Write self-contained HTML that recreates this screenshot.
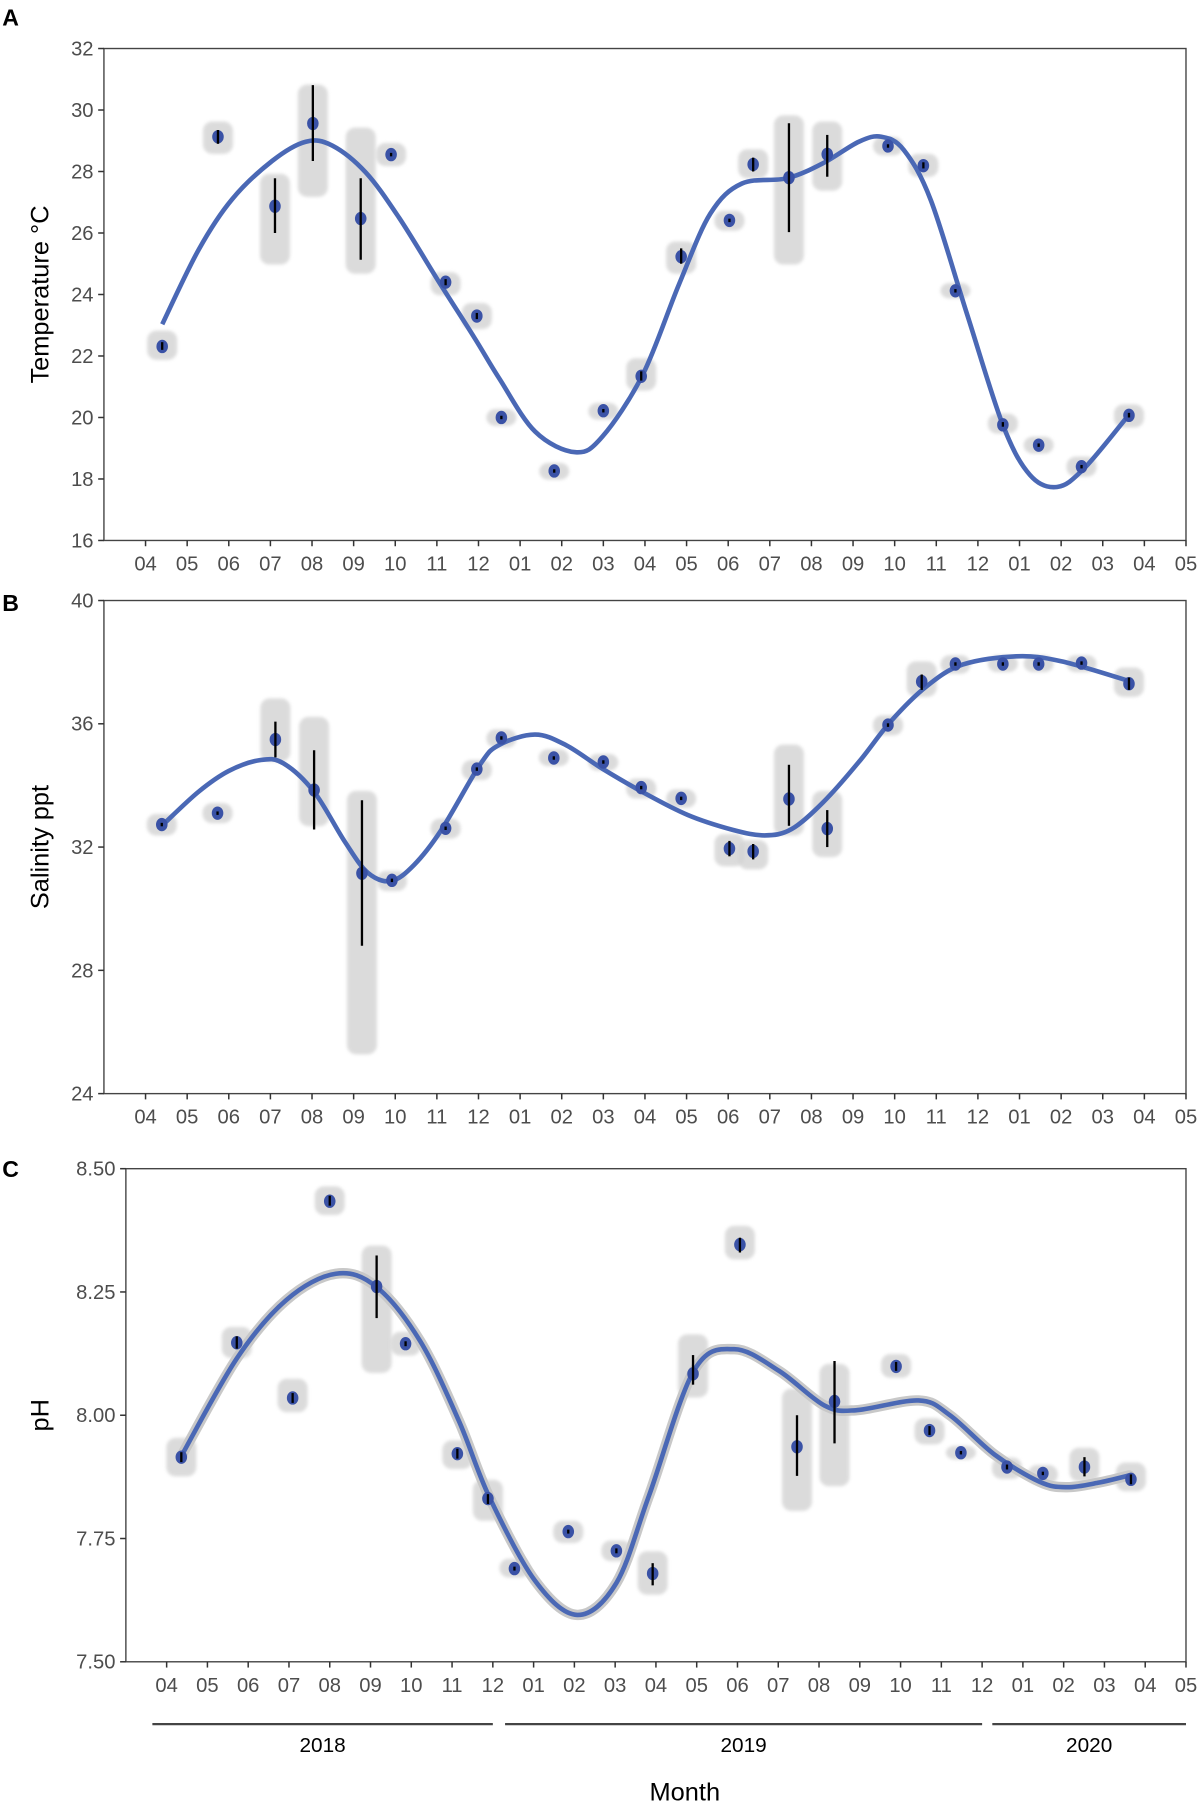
<!DOCTYPE html>
<html><head><meta charset="utf-8">
<style>
html,body{margin:0;padding:0;background:#fff;}
svg{display:block;}
text{font-family:"Liberation Sans",Arial,sans-serif;}
</style></head>
<body>
<svg id="chart" width="1201" height="1805" viewBox="0 0 1040 1563" xmlns="http://www.w3.org/2000/svg">
<defs><filter id="blur" x="-50%" y="-50%" width="200%" height="200%"><feGaussianBlur stdDeviation="1.3"/></filter></defs>
</svg>
<script>
// ---- Data (month index: 0 = 1 Mar 2018, 26 = 1 May 2020) ----
const monthTickLabels = ["04","05","06","07","08","09","10","11","12","01","02","03","04","05","06","07","08","09","10","11","12","01","02","03","04","05"];

// Temperature
const tempMonths = [1.4,2.74,4.11,5.02,6.17,6.9,8.21,8.96,9.55,10.82,12.0,12.91,13.87,15.03,15.6,16.46,17.38,18.84,19.69,20.46,21.6,22.46,23.49,24.63];
const tempMeans  = [22.31,29.13,26.87,29.56,26.47,28.55,24.4,23.3,20.0,18.26,20.22,21.34,25.23,26.41,28.23,27.8,28.56,28.83,28.19,24.12,19.76,19.1,18.4,20.07];
const tempErrLo  = [22.2,28.9,26.0,28.34,25.13,28.5,24.3,23.2,20.0,18.26,20.22,21.2,25.0,26.4,28.0,26.03,27.83,28.8,28.1,24.12,19.7,19.1,18.35,20.0];
const tempErrHi  = [22.45,29.35,27.78,30.81,27.78,28.6,24.5,23.4,20.0,18.26,20.22,21.5,25.5,26.45,28.45,29.57,29.19,28.86,28.3,24.12,19.85,19.1,18.45,20.15];
const tempCloudLo= [22.1,28.8,25.2,27.4,24.9,28.4,24.2,23.1,19.95,18.2,20.15,21.1,24.9,26.3,28.0,25.2,27.6,28.75,28.05,24.1,19.7,19.05,18.3,19.9];
const tempCloudHi= [22.6,29.4,27.7,30.6,29.2,28.7,24.5,23.5,20.05,18.3,20.25,21.7,25.5,26.5,28.5,29.6,29.4,28.9,28.35,24.15,19.9,19.15,18.5,20.2];
const tempSmoothM= [1.4,2.28,3.08,4.04,4.85,5.49,6.29,7.09,8.1,8.9,9.49,10.36,11.33,11.98,12.95,13.82,14.57,15.33,16.41,17.28,18.14,18.68,19.22,19.87,20.74,21.6,22.25,22.9,23.55,24.63];
const tempSmoothV= [23.03,25.47,27.1,28.34,28.97,28.84,27.97,26.5,24.3,22.6,21.29,19.54,18.87,19.38,21.4,24.34,26.63,27.61,27.78,28.27,28.97,29.13,28.7,27.06,23.36,19.76,18.13,17.74,18.34,20.09];
const tempTicks  = [16,18,20,22,24,26,28,30,32];

// Salinity
const salMonths = [1.39,2.73,4.12,5.05,6.2,6.92,8.21,8.96,9.55,10.81,12.0,12.91,13.87,15.03,15.6,16.46,17.38,18.84,19.65,20.46,21.6,22.46,23.49,24.63];
const salMeans  = [32.73,33.1,35.49,33.85,31.15,30.92,32.61,34.53,35.54,34.89,34.76,33.93,33.58,31.95,31.86,33.56,32.6,35.96,37.37,37.94,37.94,37.94,37.97,37.3];
const salErrLo  = [32.7,33.05,34.91,32.57,28.8,30.9,32.6,34.5,35.5,34.89,34.76,33.9,33.55,31.7,31.6,32.69,32.0,35.9,37.1,37.9,37.94,37.94,37.95,37.1];
const salErrHi  = [32.76,33.15,36.07,35.14,33.52,30.95,32.63,34.56,35.58,34.89,34.76,33.96,33.62,32.2,32.1,34.67,33.2,36.0,37.6,37.98,37.94,37.94,37.99,37.5];
const salCloudLo= [32.6,33.0,35.0,32.9,25.5,30.8,32.5,34.4,35.45,34.85,34.7,33.8,33.5,31.6,31.5,32.6,31.9,35.85,37.1,37.85,37.9,37.9,37.9,37.1];
const salCloudHi= [32.85,33.2,36.6,36.0,33.6,31.0,32.7,34.6,35.6,34.95,34.8,34.0,33.65,32.2,32.0,35.1,33.6,36.05,37.8,38.0,38.0,38.0,38.0,37.6];
const salSmoothM= [1.39,2.27,3.0,3.75,4.31,5.05,5.79,6.34,6.9,7.45,8.1,9.03,9.49,10.36,11.11,11.98,12.95,14.03,15.11,15.87,16.52,17.28,18.14,18.9,19.76,20.63,21.92,23.0,24.63];
const salSmoothV= [32.69,33.79,34.47,34.82,34.72,33.79,32.17,31.17,30.9,31.42,32.54,34.66,35.31,35.65,35.3,34.54,33.78,33.04,32.56,32.38,32.58,33.45,34.76,36.07,37.21,37.92,38.19,38.03,37.39];
const salTicks  = [24,28,32,36,40];

// pH
const phMonths = [1.36,2.72,4.09,5.0,6.15,6.86,8.13,8.88,9.53,10.85,12.03,12.92,13.91,15.06,16.46,17.38,18.89,19.71,20.48,21.61,22.49,23.51,24.65];
const phMeans  = [7.915,8.147,8.035,8.434,8.261,8.145,7.922,7.831,7.689,7.764,7.725,7.679,8.084,8.346,7.936,8.028,8.099,7.969,7.924,7.895,7.882,7.895,7.87];
const phErrLo  = [7.905,8.135,8.025,8.425,8.197,8.14,7.912,7.82,7.685,7.76,7.72,7.655,8.062,8.33,7.877,7.943,8.09,7.96,7.924,7.89,7.88,7.876,7.86];
const phErrHi  = [7.925,8.16,8.045,8.445,8.324,8.15,7.932,7.84,7.693,7.768,7.73,7.7,8.122,8.36,8.0,8.11,8.108,7.978,7.924,7.9,7.884,7.915,7.88];
const phCloudLo= [7.89,8.13,8.02,8.42,8.10,8.135,7.905,7.80,7.685,7.755,7.718,7.65,8.05,8.33,7.82,7.87,8.09,7.955,7.924,7.885,7.875,7.88,7.86];
const phCloudHi= [7.94,8.165,8.06,8.45,8.33,8.155,7.935,7.855,7.695,7.772,7.732,7.71,8.15,8.37,8.04,8.09,8.11,7.98,7.924,7.9,7.885,7.92,7.89];
const phSmoothM= [1.36,2.72,3.94,5.15,6.15,7.22,8.16,8.91,10.03,11.07,12.03,12.83,13.93,14.92,16.02,17.13,17.9,19.44,20.21,21.31,22.41,23.07,23.84,24.61];
const phSmoothV= [7.917,8.115,8.234,8.287,8.26,8.15,7.99,7.835,7.665,7.595,7.66,7.837,8.09,8.134,8.09,8.02,8.01,8.03,8.0,7.92,7.865,7.854,7.863,7.878];
const phTicks  = [7.5,7.75,8.0,8.25,8.5];
const phTickLabels = ["7.50","7.75","8.00","8.25","8.50"];

const years = ["2018","2019","2020"];
const yearStartM = [0.65,9.3,21.25];
const yearEndM = [9,21,26];

// ---- Drawing ----
const NS="http://www.w3.org/2000/svg";
const svg=document.getElementById('chart');
function mk(tag,attrs,parent){const e=document.createElementNS(NS,tag);for(const k in attrs)e.setAttribute(k,attrs[k]);(parent||svg).appendChild(e);return e;}

function smoothPath(pts){
  let d="M"+pts[0][0].toFixed(1)+","+pts[0][1].toFixed(1);
  for(let i=0;i<pts.length-1;i++){
    const p0=pts[Math.max(0,i-1)],p1=pts[i],p2=pts[i+1],p3=pts[Math.min(pts.length-1,i+2)];
    const c1=[p1[0]+(p2[0]-p0[0])/6,p1[1]+(p2[1]-p0[1])/6];
    const c2=[p2[0]-(p3[0]-p1[0])/6,p2[1]-(p3[1]-p1[1])/6];
    d+=" C"+c1[0].toFixed(1)+","+c1[1].toFixed(1)+" "+c2[0].toFixed(1)+","+c2[1].toFixed(1)+" "+p2[0].toFixed(1)+","+p2[1].toFixed(1);
  }
  return d;
}

function drawPanel(cfg){
  const g=mk('g',{});
  
  
  const xs=m=>cfg.left+(m/26)*(cfg.right-cfg.left);
  const ys=v=>cfg.bottom-(v-cfg.ymin)/(cfg.ymax-cfg.ymin)*(cfg.bottom-cfg.top);
  const fr=mk('rect',{x:cfg.left,y:cfg.top,width:cfg.right-cfg.left,height:cfg.bottom-cfg.top,fill:'none',stroke:'#444','stroke-width':1.2},g);
  
  
  cfg.ticks.forEach((t,i)=>{
    const y=ys(t);
    mk('line',{x1:cfg.left-5,x2:cfg.left,y1:y,y2:y,stroke:'#333','stroke-width':1.3},g);
    const tx=mk('text',{x:cfg.left-9,y:y+6,'text-anchor':'end','font-size':17.5,fill:'#4d4d4d'},g);
    tx.textContent=cfg.tickLabels?cfg.tickLabels[i]:String(t);
    
    
  });
  monthTickLabels.forEach((lab,i)=>{
    const x=xs(i+1);
    mk('line',{x1:x,x2:x,y1:cfg.bottom,y2:cfg.bottom+5,stroke:'#333','stroke-width':1.3},g);
    const tx=mk('text',{x:x,y:cfg.bottom+26,'text-anchor':'middle','font-size':17.5,fill:'#4d4d4d'},g);
    tx.textContent=lab;
    
    
  });
  const yt=mk('text',{x:0,y:0,'text-anchor':'middle','font-size':22,fill:'#000',transform:'translate('+cfg.titleX+','+((cfg.top+cfg.bottom)/2)+') rotate(-90)'},g);
  yt.textContent=cfg.title;
  
  
  const pl=mk('text',{x:2,y:cfg.letterY,'font-size':20,'font-weight':'bold',fill:'#000'},g);
  pl.textContent=cfg.letter;
  
  
  cfg.months.forEach((m,i)=>{
    const x=xs(m),y1=ys(cfg.cloudHi[i]),y2=ys(cfg.cloudLo[i]);
    const r=mk('rect',{x:x-13,y:y1-6,width:26,height:(y2-y1)+12,rx:8,fill:'#d3d3d3',opacity:0.8,filter:'url(#blur)'},g);
    
    
  });
  const pts=cfg.smoothM.map((m,i)=>[xs(m),ys(cfg.smoothV[i])]);
  if(cfg.ribbon){const rb=mk('path',{d:smoothPath(pts),fill:'none',stroke:'#c8c8c8','stroke-width':9,'stroke-linecap':'round'},g);
    
    }
  const ln=mk('path',{d:smoothPath(pts),fill:'none',stroke:'#4a68b5','stroke-width':4,'stroke-linecap':'butt'},g);
  
  
  cfg.months.forEach((m,i)=>{
    const x=xs(m),y=ys(cfg.means[i]);
    const c=mk('ellipse',{cx:x,cy:y,rx:5,ry:5.8,fill:'#3a52a6'},g);
    
    
    const y1=Math.min(ys(cfg.errHi[i]),y-1.5),y2=Math.max(ys(cfg.errLo[i]),y+1.5);
    const e=mk('line',{x1:x,x2:x,y1:y1,y2:y2,stroke:'#000','stroke-width':2},g);
    
    
  });
}

drawPanel({name:'temperature',letter:'A',letterY:22,left:90,right:1027,top:42,bottom:468,ymin:16,ymax:32,ticks:tempTicks,title:'Temperature °C',titleX:42,
  months:tempMonths,means:tempMeans,errLo:tempErrLo,errHi:tempErrHi,cloudLo:tempCloudLo,cloudHi:tempCloudHi,smoothM:tempSmoothM,smoothV:tempSmoothV});
drawPanel({name:'salinity',letter:'B',letterY:529,left:90,right:1027,top:520,bottom:947,ymin:24,ymax:40,ticks:salTicks,title:'Salinity ppt',titleX:42,
  months:salMonths,means:salMeans,errLo:salErrLo,errHi:salErrHi,cloudLo:salCloudLo,cloudHi:salCloudHi,smoothM:salSmoothM,smoothV:salSmoothV});
drawPanel({name:'ph',letter:'C',letterY:1019,left:109,right:1027,top:1012,bottom:1439,ymin:7.5,ymax:8.5,ticks:phTicks,tickLabels:phTickLabels,title:'pH',titleX:42,ribbon:true,
  months:phMonths,means:phMeans,errLo:phErrLo,errHi:phErrHi,cloudLo:phCloudLo,cloudHi:phCloudHi,smoothM:phSmoothM,smoothV:phSmoothV});

(function(){
  const left=109,right=1027;
  const xs=m=>left+(m/26)*(right-left);
  years.forEach((yr,i)=>{
    const x1=xs(yearStartM[i]),x2=Math.min(xs(yearEndM[i]),right);
    const l=mk('line',{x1:x1,x2:x2,y1:1493,y2:1493,stroke:'#444','stroke-width':2});
    
    
    const t=mk('text',{x:(x1+x2)/2,y:1517,'text-anchor':'middle','font-size':18,fill:'#000'});
    t.textContent=yr;
    
    
  });
  const mt=mk('text',{x:593,y:1559,'text-anchor':'middle','font-size':22,fill:'#000'});
  mt.textContent='Month';
  
  
})();
</script>
</body></html>
